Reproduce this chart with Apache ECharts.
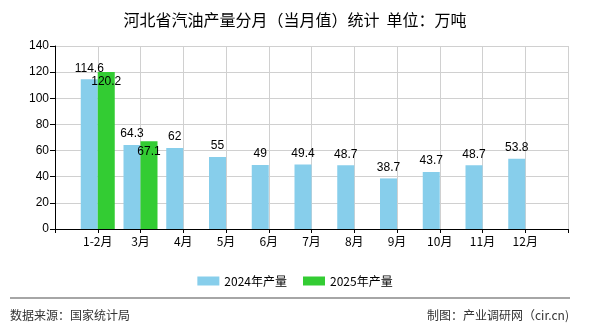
<!DOCTYPE html>
<html>
<head>
<meta charset="utf-8">
<script src="https://cdn.jsdelivr.net/npm/echarts@6/dist/echarts.min.js"></script>
<style>
  html, body { margin: 0; padding: 0; background: #fff; }
  #chart { width: 590px; height: 330px; }
</style>
</head>
<body>
<div id="chart"></div>
<script>
// Monthly gasoline output, Hebei (10k tonnes)
const categories = ['1-2月', '3月', '4月', '5月', '6月', '7月', '8月', '9月', '10月', '11月', '12月'];
const values2024 = [114.6, 64.3, 62, 55, 49, 49.4, 48.7, 38.7, 43.7, 48.7, 53.8];
const values2025 = [120.2, 67.1];
const yTicks = [0, 20, 40, 60, 80, 100, 120, 140];
const seriesNames = ['2024年产量', '2025年产量'];

// Empty slots at both ends so the month ticks sit between the axis ends
const axisData = [''].concat(categories, ['']);
const pad = (arr) => [null].concat(arr, new Array(axisData.length - 1 - arr.length).fill(null));

const cjk = '"Noto Sans CJK SC", sans-serif';
const num = '"Liberation Sans", Arial, sans-serif';

const chart = echarts.init(document.getElementById('chart'), null, { renderer: 'canvas' });
chart.setOption({
  animation: false,
  backgroundColor: '#fff',
  title: {
    text: '河北省汽油产量分月（当月值）统计  单位：万吨',
    left: 'center',
    top: 7,
    textStyle: { fontFamily: cjk, fontSize: 16, fontWeight: 'normal', color: '#000' }
  },
  legend: {
    data: seriesNames,
    left: 'center',
    top: 270,
    itemWidth: 22,
    itemHeight: 9,
    itemGap: 16,
    icon: 'rect',
    textStyle: { fontFamily: cjk, fontSize: 12, color: '#000' }
  },
  grid: { left: 55, right: 22, top: 46, bottom: 101 },
  xAxis: {
    type: 'category',
    data: axisData,
    boundaryGap: false,
    axisLine: { lineStyle: { color: '#000', width: 1 } },
    axisTick: { show: true, interval: 0, length: 4, lineStyle: { color: '#000' } },
    axisLabel: { interval: 0, color: '#000', fontFamily: cjk, fontSize: 12, margin: 6 },
    splitLine: { show: true, interval: 0, lineStyle: { color: '#d0d0d0', width: 1 } }
  },
  yAxis: {
    type: 'value',
    min: yTicks[0],
    max: yTicks[yTicks.length - 1],
    interval: yTicks[1] - yTicks[0],
    axisLine: { show: true, lineStyle: { color: '#000', width: 1 } },
    axisTick: { show: true, length: 5, lineStyle: { color: '#000' } },
    axisLabel: { color: '#000', fontFamily: num, fontSize: 12, margin: 6 },
    splitLine: { show: true, lineStyle: { color: '#d0d0d0', width: 1 } }
  },
  series: [
    {
      name: seriesNames[0],
      type: 'bar',
      data: pad(values2024),
      barWidth: 17,
      barGap: '0%',
      itemStyle: { color: '#87CEEB' },
      label: {
        show: true, position: 'top', distance: 5,
        color: '#000', fontFamily: num, fontSize: 12
      }
    },
    {
      name: seriesNames[1],
      type: 'bar',
      data: pad(values2025),
      barWidth: 17,
      barGap: '0%',
      itemStyle: { color: '#33CC33' },
      label: {
        show: true, position: 'insideTop', distance: 4,
        color: '#000', fontFamily: num, fontSize: 12
      }
    }
  ],
  graphic: [
    {
      type: 'line',
      shape: { x1: 10, y1: 298, x2: 570, y2: 298 },
      style: { stroke: '#888', lineWidth: 1.5 }
    },
    {
      type: 'text',
      left: 10,
      top: 309,
      style: { text: '数据来源：国家统计局', fontFamily: cjk, fontSize: 12, fill: '#333' }
    },
    {
      type: 'text',
      right: 21,
      top: 309,
      style: { text: '制图：产业调研网（cir.cn)', fontFamily: cjk, fontSize: 12, fill: '#333' }
    }
  ]
});
</script>
</body>
</html>
